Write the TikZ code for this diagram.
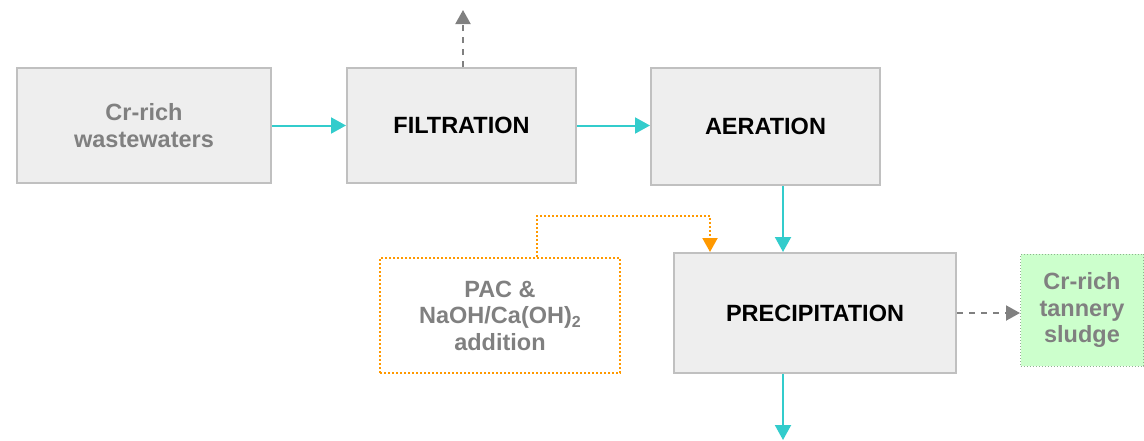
\documentclass[tikz,border=0pt]{standalone}
\usepackage{fontspec}
\setmainfont{Liberation Sans}
\usetikzlibrary{arrows.meta}

\definecolor{boxline}{RGB}{192,192,192}
\definecolor{boxfill}{RGB}{238,238,238}
\definecolor{labelgray}{RGB}{128,128,128}
\definecolor{flowteal}{RGB}{51,204,204}
\definecolor{dosing}{RGB}{255,153,0}
\definecolor{sludgefill}{RGB}{204,255,204}

\tikzset{
  stage/.style={draw=boxline, line width=2pt, fill=boxfill, align=center,
    font=\bfseries\fontsize{23.5}{26.5}\selectfont, inner sep=0pt},
  stream/.style={stage, text=labelgray},
  flow/.style={flowteal, line width=2pt, -{Triangle[length=15pt,width=16pt]}},
  side/.style={labelgray, line width=2pt, dash pattern=on 6pt off 6pt,
    -{Triangle[length=14pt,width=15pt]}},
}
\newcommand{\subtwo}{\raisebox{-0.35ex}{\fontsize{16}{16}\selectfont 2}}

\begin{document}
\begin{tikzpicture}[x=1pt, y=-1pt]
\useasboundingbox (0,0) rectangle (1144,440);

% process line
\node[stream, minimum width=254pt, minimum height=115pt] (waste) at (144,125.5) {Cr-rich\\wastewaters};
\node[stage, minimum width=229pt, minimum height=115pt] (filt) at (461.5,125.5) {FILTRATION};
\node[stage, minimum width=229pt, minimum height=117pt] (aer) at (765.5,126.5) {AERATION};
\node[stage, minimum width=282pt, minimum height=120pt] (prec) at (815,313) {PRECIPITATION};

% chemicals and sludge
\node[stream, fill=none, draw=dosing, dotted, line width=2pt, minimum width=240pt, minimum height=115pt] (chem) at (500,315.5) {PAC \&\\NaOH/Ca(OH)\subtwo\\addition};
\node[stream, fill=sludgefill, draw=sludgefill!70!black, line width=1pt, dotted, minimum width=123pt, minimum height=112pt] (sludge) at (1082,310) {Cr-rich\\tannery\\sludge};

\coordinate (vent) at (463,10);
\coordinate (out) at (783,440);

\draw[flow] (waste.east) -- (filt.west);
\draw[flow] (filt.east) -- (filt.east -| aer.west);
\draw[flow] ([xshift=17.5pt]aer.south) -- ([xshift=17.5pt]aer.south |- prec.north);
\draw[flow] ([xshift=-32pt]prec.south) -- (out);
\draw[side] (filt.north -| vent) -- (vent);
\draw[side] (prec.east) -- (prec.east -| sludge.west);
\draw[dosing, line width=2pt, dotted, -{Triangle[length=14pt,width=15pt]}]
  ([xshift=37pt]chem.north) -- ++(0,41pt) -| ([xshift=-105pt]prec.north);
\end{tikzpicture}
\end{document}
